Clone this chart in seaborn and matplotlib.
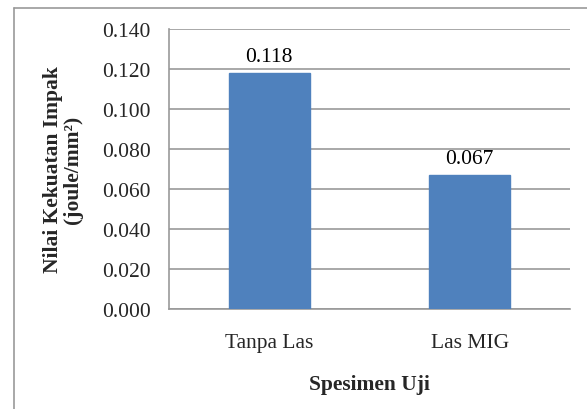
import matplotlib
matplotlib.use("Agg")
import pandas as pd
from matplotlib import pyplot as plt
from matplotlib.lines import Line2D
import seaborn as sns

specimens = ["Tanpa Las", "Las MIG"]
impact = [0.118, 0.067]
value_labels = ["0.118", "0.067"]
yticks = [0.000, 0.020, 0.040, 0.060, 0.080, 0.100, 0.120, 0.140]

df = pd.DataFrame({"specimen": specimens, "impact": impact})

sns.set_style("white")
plt.rcParams["font.family"] = ["Liberation Serif", "DejaVu Serif"]
fs = 15.5

fig = plt.figure(figsize=(5.87, 4.10), dpi=100)
ax = fig.add_axes([169 / 587, 100 / 410, 401 / 587, 280 / 410])

sns.barplot(data=df, x="specimen", y="impact", color="#4F81BD", width=0.405,
            saturation=1, edgecolor="#4F81BD", ax=ax, zorder=3)

for i, (v, lab) in enumerate(zip(impact, value_labels)):
    ax.annotate(lab, (i, v), xytext=(0, 5), textcoords="offset points",
                ha="center", va="bottom", fontsize=fs, color="black")

ax.set_ylim(0, 0.14)
ax.set_xlim(-0.5, 1.5)
ax.set_yticks(yticks)
ax.set_yticklabels([f"{t:.3f}" for t in yticks], fontsize=fs)
ax.yaxis.grid(True, color="#999999", linewidth=1.2, zorder=0)
ax.set_axisbelow(True)

# category ticks at boundaries, Excel style
ax.set_xticks([0, 1])
ax.set_xticklabels(specimens, fontsize=fs)
ax.tick_params(axis="x", length=0, pad=17)
ax.set_xticks([-0.5, 0.5, 1.5], minor=True)
ax.tick_params(axis="x", which="minor", length=6, width=1.2, color="#999999", direction="out")
ax.tick_params(axis="y", length=7, width=1.2, color="#999999", direction="out", pad=6)

for side in ["top", "right"]:
    ax.spines[side].set_visible(False)
for side in ["left", "bottom"]:
    ax.spines[side].set_color("#999999")
    ax.spines[side].set_linewidth(1.2)

ax.set_xlabel("Spesimen Uji", fontsize=fs, fontweight="bold", labelpad=16)
ax.set_ylabel("Nilai Kekuatan Impak\n(joule/mm²)", fontsize=fs, fontweight="bold",
              labelpad=14, linespacing=1.0)

# chart frame (top and left edges visible in the screenshot)
fig.add_artist(Line2D([14 / 587, 1], [1 - 9 / 410, 1 - 9 / 410],
                      transform=fig.transFigure, color="#999999", linewidth=1.2))
fig.add_artist(Line2D([14 / 587, 14 / 587], [0, 1 - 9 / 410],
                      transform=fig.transFigure, color="#999999", linewidth=1.2))

fig.savefig("out.png", dpi=100)
